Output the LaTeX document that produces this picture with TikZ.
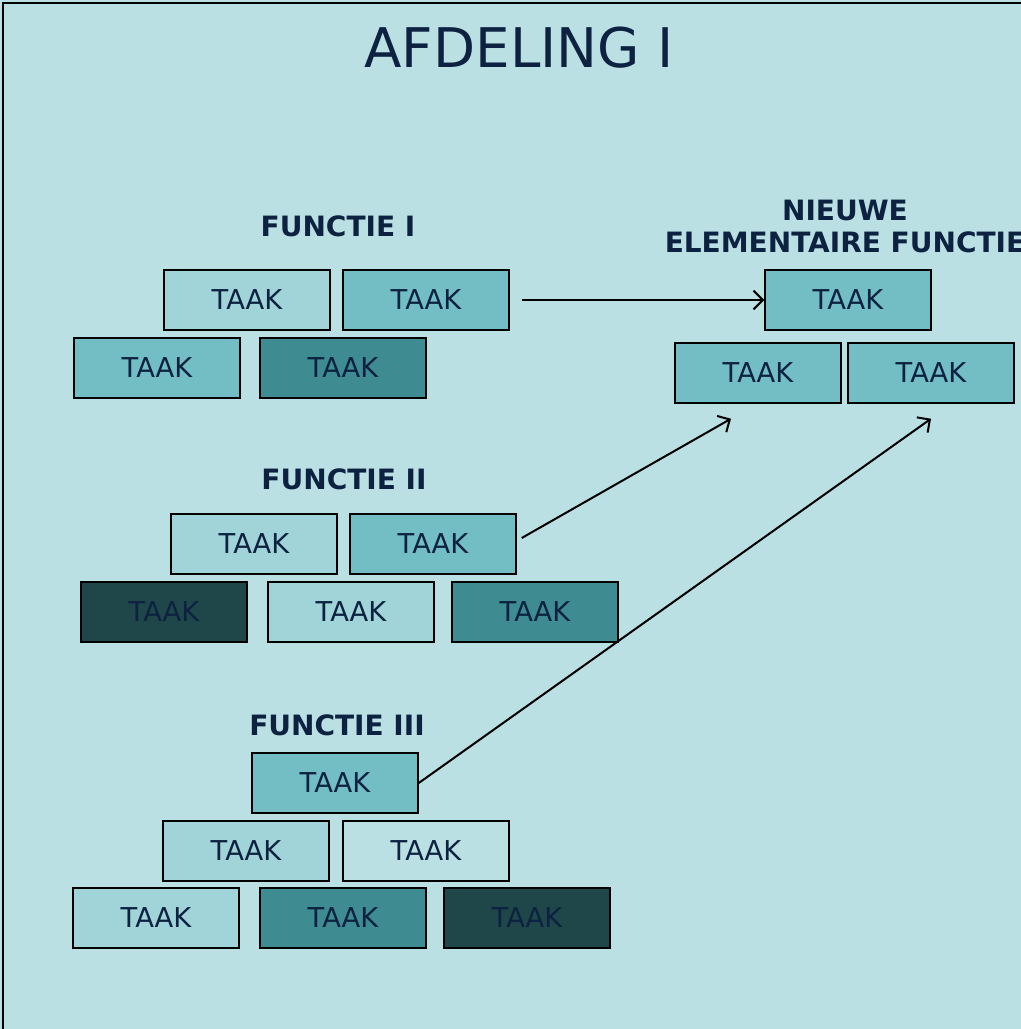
\documentclass[tikz,border=0pt]{standalone}
\usepackage{fontspec}
\setmainfont{DejaVu Sans}
\usetikzlibrary{arrows.meta,calc}
\definecolor{achtergrond}{HTML}{BAE0E3}
\definecolor{licht}{HTML}{A0D4D8}
\definecolor{middel}{HTML}{72BEC4}
\definecolor{donker}{HTML}{3E8B91}
\definecolor{zeerdonker}{HTML}{1F4749}
\definecolor{tekst}{HTML}{0C2240}
\begin{document}
\begin{tikzpicture}
[x=0.75pt,y=-0.75pt,
  taakdecorate/.style={shape=rectangle,draw,line width=1.1pt,inner sep=0pt,
    minimum width=124.5pt,minimum height=45pt,text=tekst,text depth=1pt,
    font=\fontsize{20.5}{23}\selectfont},
  labeldecorate/.style={text=tekst,align=center,
    font=\fontsize{21}{24}\bfseries},
  linedecorate/.style={-{Straight Barb[length=7pt,width=14pt]},line width=1.5pt}]
%% background and frame
\fill[achtergrond] (0,0) rectangle (1021,1029);
\useasboundingbox (0,0) rectangle (1021,1029);
\draw[line width=1.5pt] (3,1029) -- (3,3) -- (1021,3);
%% title
\node (titel) at (519,48) [text=tekst,font=\fontsize{41}{46}\selectfont] {AFDELING I};
%% labels
\node (lab1) at (338,226) [labeldecorate] {FUNCTIE I};
\node (lab2) at (344,479) [labeldecorate] {FUNCTIE II};
\node (lab3) at (337,725) [labeldecorate] {FUNCTIE III};
\node (labn) at (845,226) [labeldecorate] {NIEUWE\\ELEMENTAIRE FUNCTIE};
%% tasks or boxes
\foreach \nodename/\x/\y/\kleur in {f1a/247/300/licht, f1b/426/300/middel,
  f1c/157/368/middel, f1d/343/368/donker,
  f2a/254/544/licht, f2b/433/544/middel,
  f2c/164/612/zeerdonker, f2d/351/612/licht, f2e/535/612/donker,
  f3a/335/783/middel,
  f3b/246/851/licht, f3c/426/851/achtergrond,
  f3d/156/918/licht, f3e/343/918/donker, f3f/527/918/zeerdonker,
  n1/848/300/middel, n2/758/373/middel, n3/931/373/middel} {
  \node (\nodename) at (\x,\y) [taakdecorate,fill=\kleur] {TAAK};
}
%% edges or lines
\draw[linedecorate] ($(f1b.east)+(12,0)$) -- (n1.west);
\draw[linedecorate] ($(f2b.east)+(5,-6)$) -- ($(n2.south)+(-27,15)$);
\draw[linedecorate] (f3a.east) -- ($(n3.south)+(0,15)$);
\end{tikzpicture}
\end{document}
